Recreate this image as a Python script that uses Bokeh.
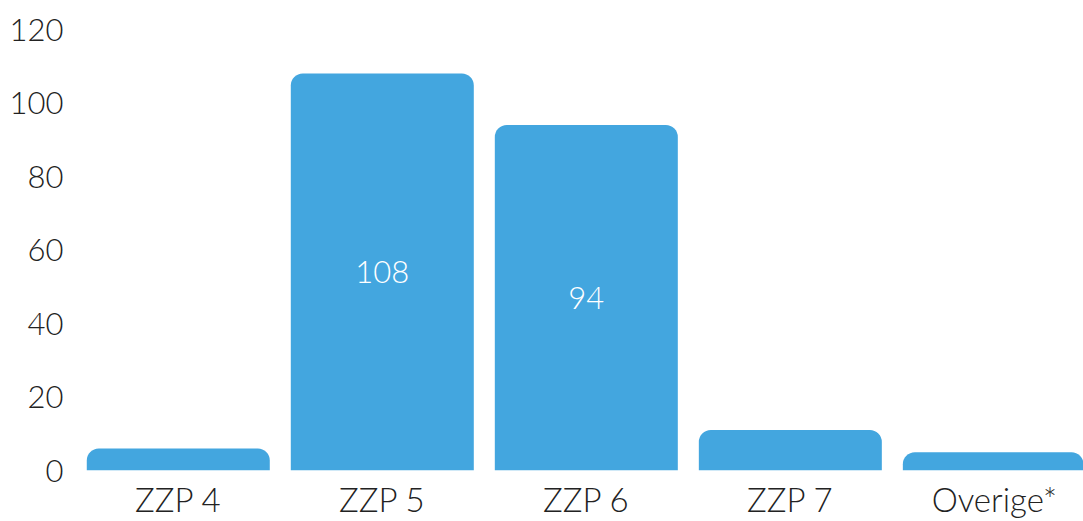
from bokeh.plotting import figure
from bokeh.models import ColumnDataSource, FixedTicker, Range1d
from bokeh.core.properties import value
from bokeh.embed import file_html
from bokeh.resources import INLINE

categories = ["ZZP 4", "ZZP 5", "ZZP 6", "ZZP 7", "Overige*"]
counts = [6, 108, 94, 11, 5]
inside_labels = ["", "108", "94", "", ""]
y_ticks = [0, 20, 40, 60, 80, 100, 120]

BLUE = "#43A6DF"
FONT = "Lato Light, Lato"

xs = list(range(len(categories)))
src = ColumnDataSource(dict(
    x=xs, top=counts, mid=[c / 2 for c in counts], lab=inside_labels,
))

p = figure(width=1083, height=521, output_backend="svg", toolbar_location=None,
           x_range=Range1d(-0.494, 4.437), y_range=Range1d(0, 120),
           min_border_left=77, min_border_right=0, min_border_top=29,
           min_border_bottom=40)
p.outline_line_color = None
p.grid.grid_line_color = None

p.vbar(x="x", top="top", bottom=0, width=0.897, source=src, fill_color=BLUE,
       line_color=None, border_radius=(12, 12, 0, 0))
p.text(x="x", y="mid", text="lab", source=src, text_color="white",
       text_font=value(FONT), text_font_size="31px", text_align="center",
       text_baseline="middle")

p.xaxis.ticker = FixedTicker(ticks=xs)
p.xaxis.major_label_overrides = {i: c for i, c in enumerate(categories)}
p.yaxis.ticker = FixedTicker(ticks=y_ticks)
for ax in (p.xaxis, p.yaxis):
    ax.axis_line_color = None
    ax.major_tick_line_color = None
    ax.minor_tick_line_color = None
    ax.major_label_text_font = FONT
    ax.major_label_text_color = "#222222"
p.yaxis.major_label_text_font_size = "31px"
p.xaxis.major_label_text_font_size = "33px"
p.xaxis.major_label_standoff = 2
p.yaxis.major_label_standoff = 8

open("out.html", "w").write(file_html(p, INLINE))
